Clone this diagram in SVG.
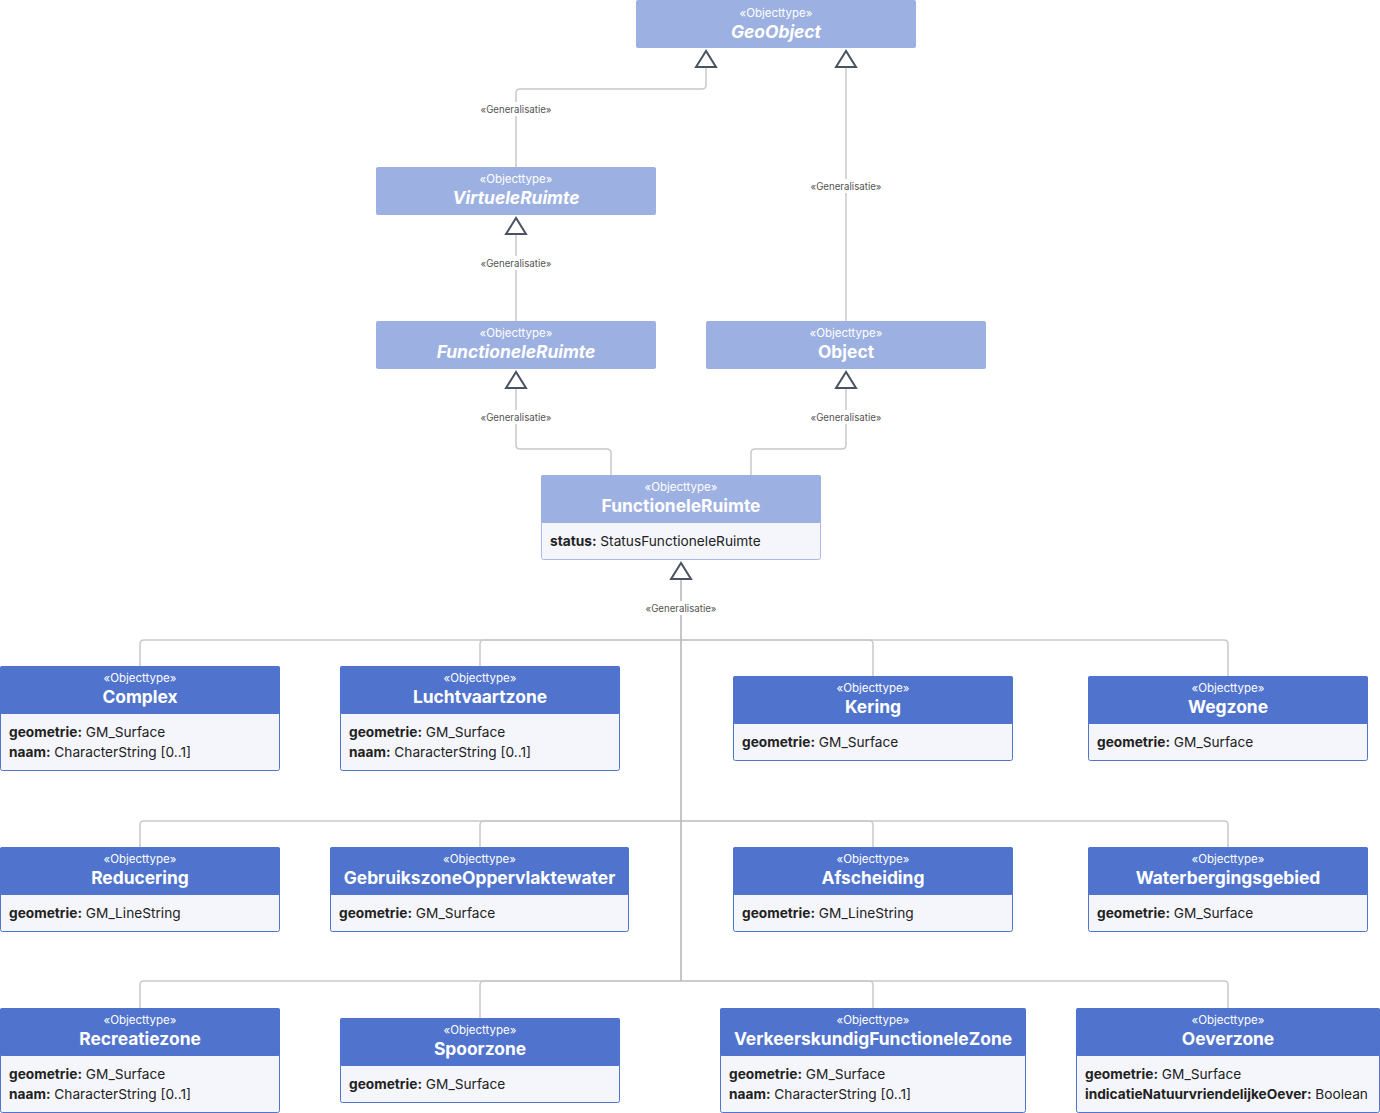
<svg xmlns="http://www.w3.org/2000/svg" width="1380" height="1113" viewBox="0 0 1380 1113">
<style>
.bg{fill:#ffffff}
.frame-l{fill:#F5F6FB;stroke:#A9BAE8;stroke-width:1}
.frame-d{fill:#F5F6FB;stroke:#5073CD;stroke-width:1}
.hdr-l{fill:#9DB0E2}
.hdr-d{fill:#5073CD}
.st{font-family:Inter,"Liberation Sans",sans-serif;font-size:11.5px;fill:#ffffff;text-anchor:middle}
.nm{font-family:Inter,"Liberation Sans",sans-serif;font-size:17.4px;font-weight:700;fill:#ffffff;text-anchor:middle}
.it{font-style:italic}
.at{font-family:Inter,"Liberation Sans",sans-serif;font-size:13.7px;fill:#222222}
.b{font-weight:700}
.conn{fill:none;stroke:#C9C9CC;stroke-width:1.5}
.trunk{fill:none;stroke:#B5B5BA;stroke-width:1.5}
.tri{fill:#ffffff;stroke:#4A5263;stroke-width:2;stroke-linejoin:miter}
.lblbg{fill:#ffffff}
.lbl{font-family:Inter,"Liberation Sans",sans-serif;font-size:9.7px;fill:#555555;text-anchor:middle}
</style>
<rect class="bg" x="0" y="0" width="1380" height="1113"/>

<g id="connectors">
  <path class="conn" d="M516,167 V93 Q516,89 520,89 H702 Q706,89 706,85 V68"/>
  <path class="conn" d="M846,321 V68"/>
  <path class="conn" d="M516,321 V235"/>
  <path class="conn" d="M611,475 V453 Q611,449 607,449 H520 Q516,449 516,445 V389"/>
  <path class="conn" d="M751,475 V453 Q751,449 755,449 H842 Q846,449 846,445 V389"/>
  <path class="conn" d="M681,640 H144 Q140,640 140,644 V666"/>
  <path class="conn" d="M681,640 H484 Q480,640 480,644 V666"/>
  <path class="conn" d="M681,640 H869 Q873,640 873,644 V676"/>
  <path class="conn" d="M681,640 H1224 Q1228,640 1228,644 V676"/>
  <path class="conn" d="M681,821 H144 Q140,821 140,825 V847"/>
  <path class="conn" d="M681,821 H484 Q480,821 480,825 V847"/>
  <path class="conn" d="M681,821 H869 Q873,821 873,825 V847"/>
  <path class="conn" d="M681,821 H1224 Q1228,821 1228,825 V847"/>
  <path class="conn" d="M681,981 H144 Q140,981 140,985 V1008"/>
  <path class="conn" d="M681,981 H484 Q480,981 480,985 V1018"/>
  <path class="conn" d="M681,981 H869 Q873,981 873,985 V1008"/>
  <path class="conn" d="M681,981 H1224 Q1228,981 1228,985 V1008"/>
  <path class="trunk" d="M681,981 V580"/>
  <polygon class="tri" points="706,51 696,67 716,67"/>
  <polygon class="tri" points="846,51 836,67 856,67"/>
  <polygon class="tri" points="516,218 506,234 526,234"/>
  <polygon class="tri" points="516,372 506,388 526,388"/>
  <polygon class="tri" points="846,372 836,388 856,388"/>
  <polygon class="tri" points="681,563 671,579 691,579"/>
  <rect class="lblbg" x="478" y="102" width="76" height="14"/>
  <text class="lbl" x="516" y="112.5">«Generalisatie»</text>
  <rect class="lblbg" x="808" y="179" width="76" height="14"/>
  <text class="lbl" x="846" y="189.5">«Generalisatie»</text>
  <rect class="lblbg" x="478" y="256" width="76" height="14"/>
  <text class="lbl" x="516" y="266.5">«Generalisatie»</text>
  <rect class="lblbg" x="478" y="410" width="76" height="14"/>
  <text class="lbl" x="516" y="420.5">«Generalisatie»</text>
  <rect class="lblbg" x="808" y="410" width="76" height="14"/>
  <text class="lbl" x="846" y="420.5">«Generalisatie»</text>
  <rect class="lblbg" x="643" y="601" width="76" height="14"/>
  <text class="lbl" x="681" y="611.5">«Generalisatie»</text>
</g>

<g id="GeoObject" transform="translate(636,0)">
  <rect class="hdr-l" x="0" y="0" width="280" height="48" rx="2"/>
  <text class="st" x="140" y="17">«Objecttype»</text>
  <text class="nm it" x="140" y="38">GeoObject</text>
</g>
<g id="VirtueleRuimte" transform="translate(376,167)">
  <rect class="hdr-l" x="0" y="0" width="280" height="48" rx="2"/>
  <text class="st" x="140" y="16">«Objecttype»</text>
  <text class="nm it" x="140" y="37">VirtueleRuimte</text>
</g>
<g id="FunctioneleRuimteAbstract" transform="translate(376,321)">
  <rect class="hdr-l" x="0" y="0" width="280" height="48" rx="2"/>
  <text class="st" x="140" y="16">«Objecttype»</text>
  <text class="nm it" x="140" y="37">FunctioneleRuimte</text>
</g>
<g id="Object" transform="translate(706,321)">
  <rect class="hdr-l" x="0" y="0" width="280" height="48" rx="2"/>
  <text class="st" x="140" y="16">«Objecttype»</text>
  <text class="nm" x="140" y="37">Object</text>
</g>
<g id="FunctioneleRuimte" transform="translate(541,475)">
  <rect class="frame-l" x="0.5" y="0.5" width="279" height="84" rx="2"/>
  <rect class="hdr-l" x="0" y="0" width="280" height="48" rx="2"/>
  <text class="st" x="140" y="16">«Objecttype»</text>
  <text class="nm" x="140" y="37">FunctioneleRuimte</text>
  <text class="at" x="9" y="71"><tspan class="b">status:</tspan> StatusFunctioneleRuimte</text>
</g>

<g id="Complex" transform="translate(0,666)">
  <rect class="frame-d" x="0.5" y="0.5" width="279" height="104" rx="2"/>
  <rect class="hdr-d" x="0" y="0" width="280" height="48" rx="2"/>
  <text class="st" x="140" y="16">«Objecttype»</text>
  <text class="nm" x="140" y="37">Complex</text>
  <text class="at" x="9" y="71"><tspan class="b">geometrie:</tspan> GM_Surface</text>
  <text class="at" x="9" y="91"><tspan class="b">naam:</tspan> CharacterString [0..1]</text>
</g>
<g id="Luchtvaartzone" transform="translate(340,666)">
  <rect class="frame-d" x="0.5" y="0.5" width="279" height="104" rx="2"/>
  <rect class="hdr-d" x="0" y="0" width="280" height="48" rx="2"/>
  <text class="st" x="140" y="16">«Objecttype»</text>
  <text class="nm" x="140" y="37">Luchtvaartzone</text>
  <text class="at" x="9" y="71"><tspan class="b">geometrie:</tspan> GM_Surface</text>
  <text class="at" x="9" y="91"><tspan class="b">naam:</tspan> CharacterString [0..1]</text>
</g>
<g id="Kering" transform="translate(733,676)">
  <rect class="frame-d" x="0.5" y="0.5" width="279" height="84" rx="2"/>
  <rect class="hdr-d" x="0" y="0" width="280" height="48" rx="2"/>
  <text class="st" x="140" y="16">«Objecttype»</text>
  <text class="nm" x="140" y="37">Kering</text>
  <text class="at" x="9" y="71"><tspan class="b">geometrie:</tspan> GM_Surface</text>
</g>
<g id="Wegzone" transform="translate(1088,676)">
  <rect class="frame-d" x="0.5" y="0.5" width="279" height="84" rx="2"/>
  <rect class="hdr-d" x="0" y="0" width="280" height="48" rx="2"/>
  <text class="st" x="140" y="16">«Objecttype»</text>
  <text class="nm" x="140" y="37">Wegzone</text>
  <text class="at" x="9" y="71"><tspan class="b">geometrie:</tspan> GM_Surface</text>
</g>

<g id="Reducering" transform="translate(0,847)">
  <rect class="frame-d" x="0.5" y="0.5" width="279" height="84" rx="2"/>
  <rect class="hdr-d" x="0" y="0" width="280" height="48" rx="2"/>
  <text class="st" x="140" y="16">«Objecttype»</text>
  <text class="nm" x="140" y="37">Reducering</text>
  <text class="at" x="9" y="71"><tspan class="b">geometrie:</tspan> GM_LineString</text>
</g>
<g id="GebruikszoneOppervlaktewater" transform="translate(330,847)">
  <rect class="frame-d" x="0.5" y="0.5" width="298" height="84" rx="2"/>
  <rect class="hdr-d" x="0" y="0" width="299" height="48" rx="2"/>
  <text class="st" x="149.5" y="16">«Objecttype»</text>
  <text class="nm" x="149.5" y="37">GebruikszoneOppervlaktewater</text>
  <text class="at" x="9" y="71"><tspan class="b">geometrie:</tspan> GM_Surface</text>
</g>
<g id="Afscheiding" transform="translate(733,847)">
  <rect class="frame-d" x="0.5" y="0.5" width="279" height="84" rx="2"/>
  <rect class="hdr-d" x="0" y="0" width="280" height="48" rx="2"/>
  <text class="st" x="140" y="16">«Objecttype»</text>
  <text class="nm" x="140" y="37">Afscheiding</text>
  <text class="at" x="9" y="71"><tspan class="b">geometrie:</tspan> GM_LineString</text>
</g>
<g id="Waterbergingsgebied" transform="translate(1088,847)">
  <rect class="frame-d" x="0.5" y="0.5" width="279" height="84" rx="2"/>
  <rect class="hdr-d" x="0" y="0" width="280" height="48" rx="2"/>
  <text class="st" x="140" y="16">«Objecttype»</text>
  <text class="nm" x="140" y="37">Waterbergingsgebied</text>
  <text class="at" x="9" y="71"><tspan class="b">geometrie:</tspan> GM_Surface</text>
</g>

<g id="Recreatiezone" transform="translate(0,1008)">
  <rect class="frame-d" x="0.5" y="0.5" width="279" height="104" rx="2"/>
  <rect class="hdr-d" x="0" y="0" width="280" height="48" rx="2"/>
  <text class="st" x="140" y="16">«Objecttype»</text>
  <text class="nm" x="140" y="37">Recreatiezone</text>
  <text class="at" x="9" y="71"><tspan class="b">geometrie:</tspan> GM_Surface</text>
  <text class="at" x="9" y="91"><tspan class="b">naam:</tspan> CharacterString [0..1]</text>
</g>
<g id="Spoorzone" transform="translate(340,1018)">
  <rect class="frame-d" x="0.5" y="0.5" width="279" height="84" rx="2"/>
  <rect class="hdr-d" x="0" y="0" width="280" height="48" rx="2"/>
  <text class="st" x="140" y="16">«Objecttype»</text>
  <text class="nm" x="140" y="37">Spoorzone</text>
  <text class="at" x="9" y="71"><tspan class="b">geometrie:</tspan> GM_Surface</text>
</g>
<g id="VerkeerskundigFunctioneleZone" transform="translate(720,1008)">
  <rect class="frame-d" x="0.5" y="0.5" width="305" height="104" rx="2"/>
  <rect class="hdr-d" x="0" y="0" width="306" height="48" rx="2"/>
  <text class="st" x="153" y="16">«Objecttype»</text>
  <text class="nm" x="153" y="37">VerkeerskundigFunctioneleZone</text>
  <text class="at" x="9" y="71"><tspan class="b">geometrie:</tspan> GM_Surface</text>
  <text class="at" x="9" y="91"><tspan class="b">naam:</tspan> CharacterString [0..1]</text>
</g>
<g id="Oeverzone" transform="translate(1076,1008)">
  <rect class="frame-d" x="0.5" y="0.5" width="303" height="104" rx="2"/>
  <rect class="hdr-d" x="0" y="0" width="304" height="48" rx="2"/>
  <text class="st" x="152" y="16">«Objecttype»</text>
  <text class="nm" x="152" y="37">Oeverzone</text>
  <text class="at" x="9" y="71"><tspan class="b">geometrie:</tspan> GM_Surface</text>
  <text class="at" x="9" y="91"><tspan class="b">indicatieNatuurvriendelijkeOever:</tspan> Boolean</text>
</g>
</svg>
